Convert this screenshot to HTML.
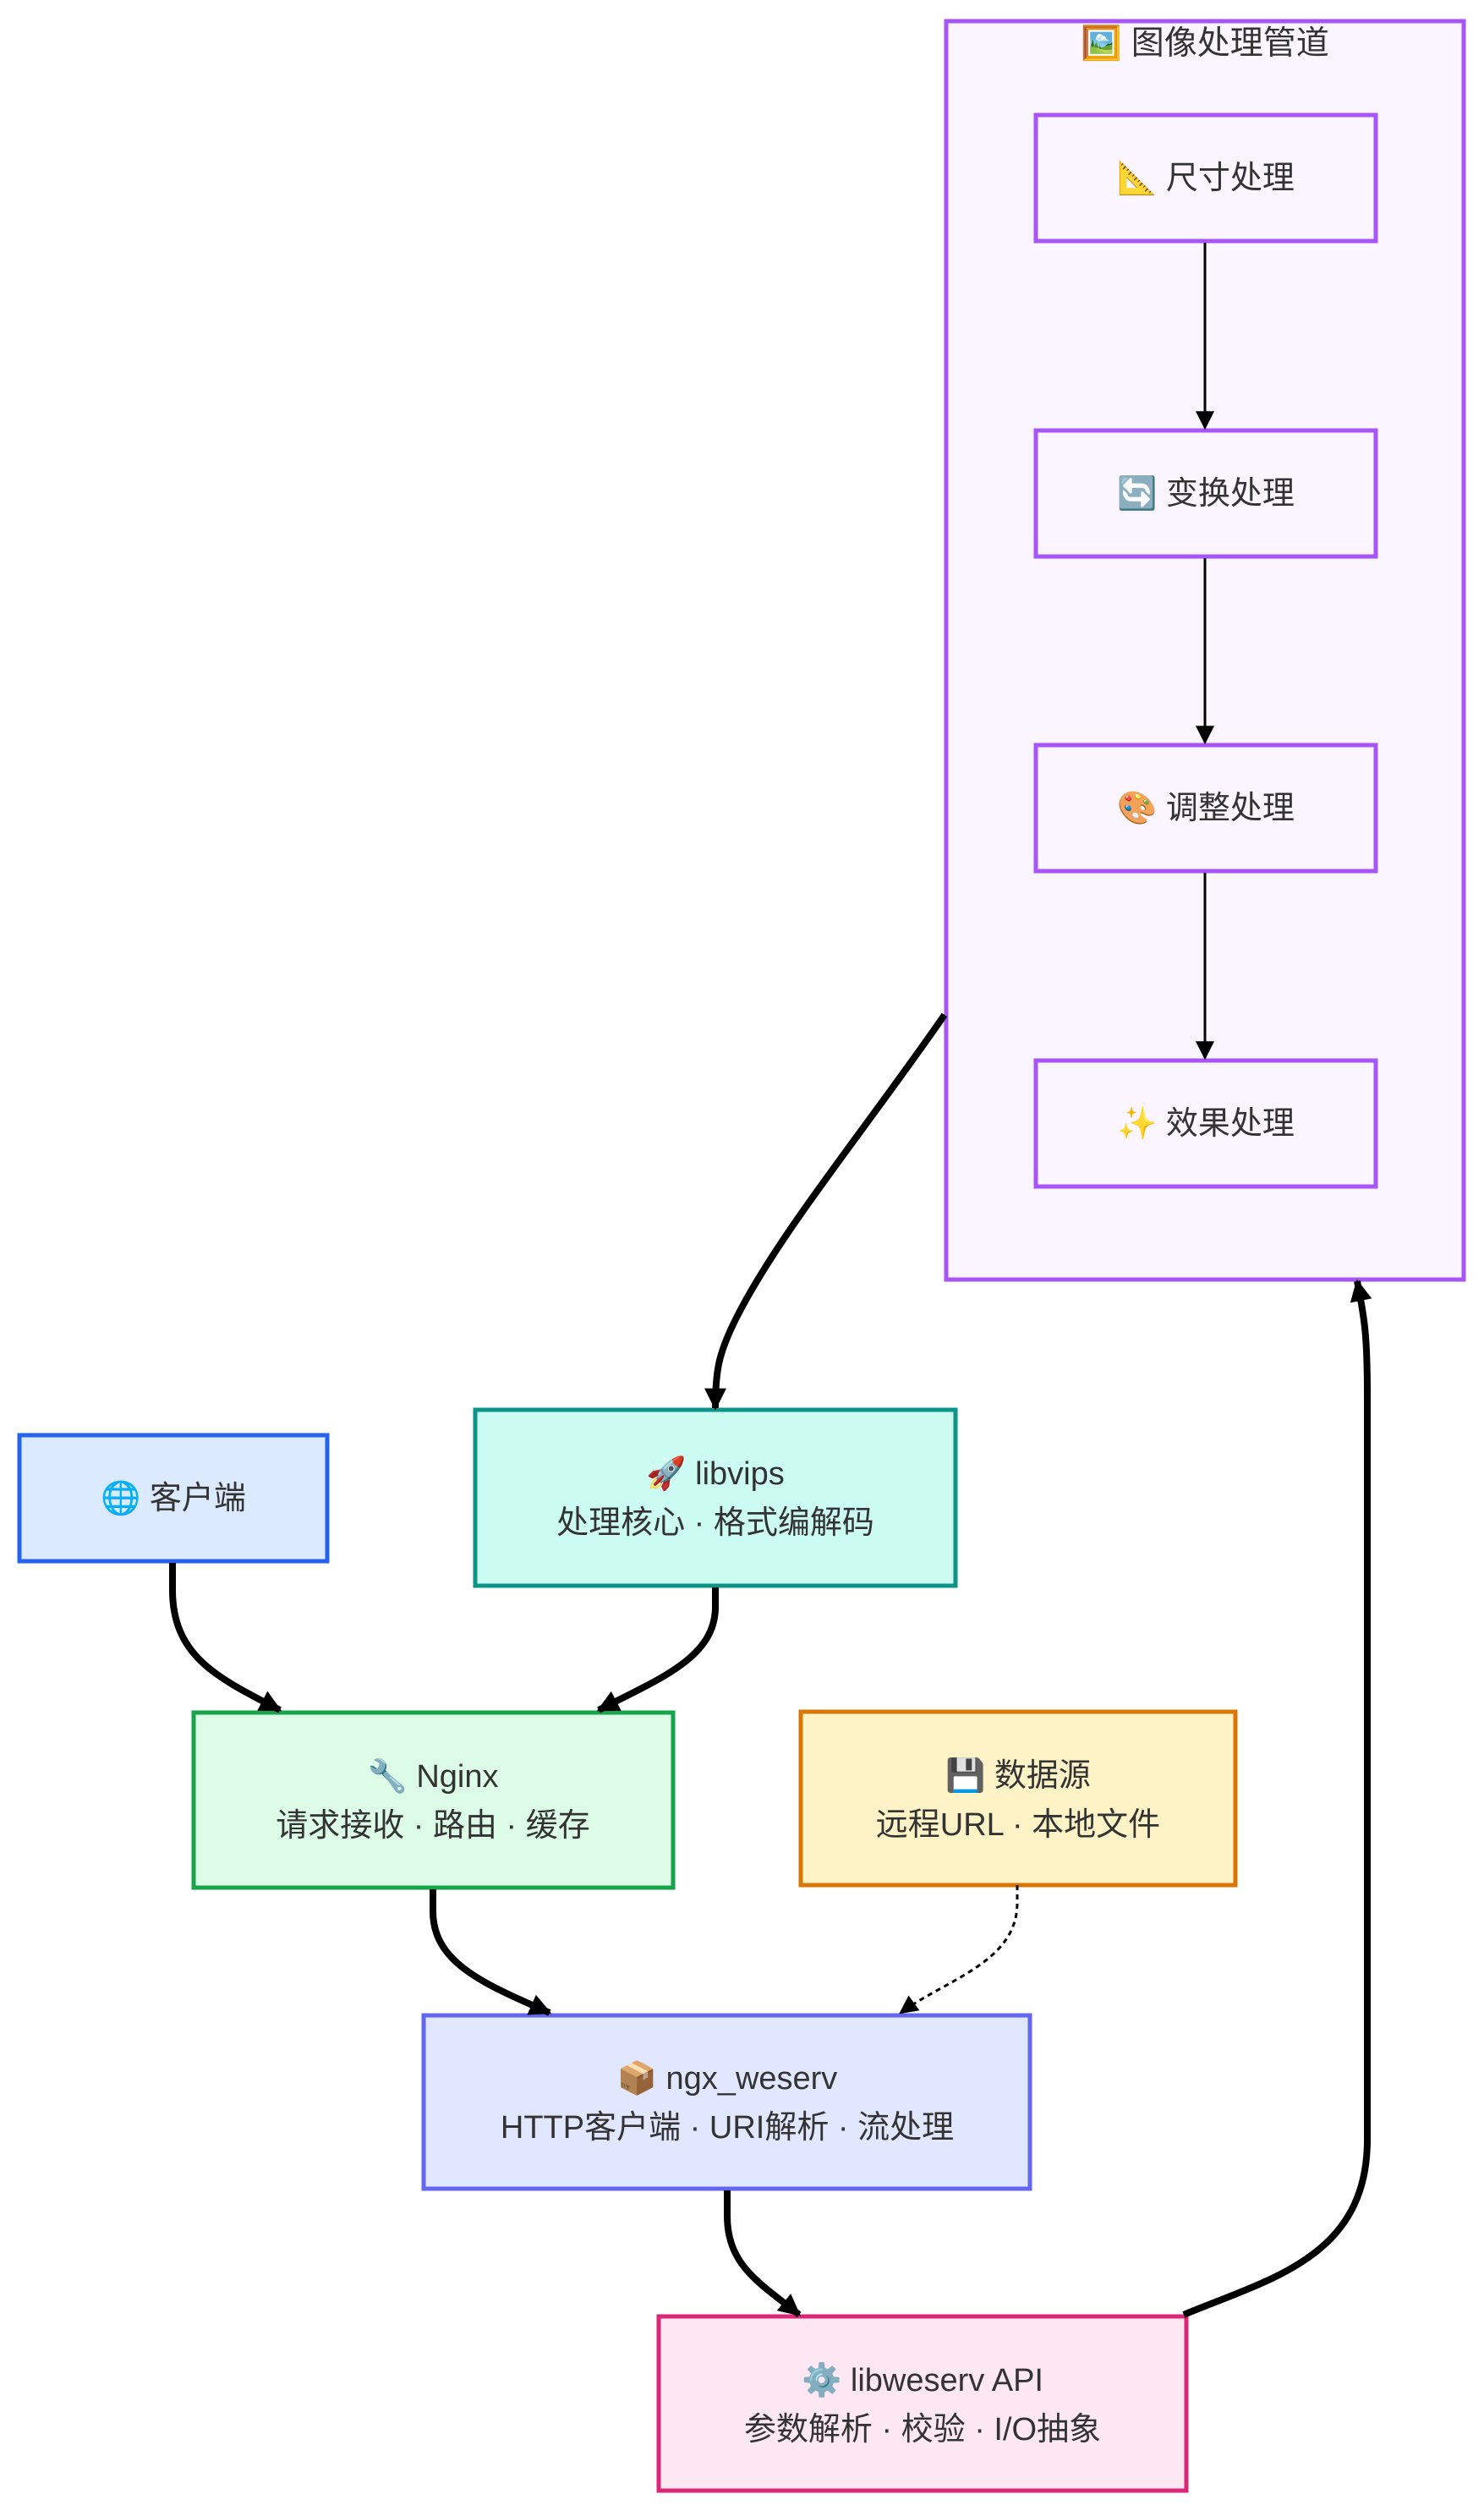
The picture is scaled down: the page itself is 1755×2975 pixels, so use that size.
<!DOCTYPE html>
<html><head><meta charset="utf-8"><style>
html,body{margin:0;padding:0;background:#fff;}
svg text{font-family:"Liberation Sans","Noto Sans CJK SC",sans-serif;fill:#333;}
</style></head><body>
<svg width="1755" height="2970" viewBox="0 0 1755 2970" xmlns="http://www.w3.org/2000/svg">
<defs>
<marker id="a" viewBox="0 0 10 10" refX="9" refY="5" markerWidth="22" markerHeight="22" markerUnits="userSpaceOnUse" orient="auto"><path d="M0,0L10,5L0,10z" fill="#000"/></marker>
<marker id="b" viewBox="0 0 10 10" refX="9" refY="5" markerWidth="26" markerHeight="26" markerUnits="userSpaceOnUse" orient="auto"><path d="M0,0L10,5L0,10z" fill="#000"/></marker>
</defs>
<rect x="1119" y="25" width="612" height="1488" fill="#faf5ff" stroke="#a855f7" stroke-width="5"/>
<text x="1425" y="64" font-size="39" text-anchor="middle">🖼️ 图像处理管道</text>
<g fill="#faf5ff" stroke="#a855f7" stroke-width="5">
<rect x="1225" y="136" width="402" height="149"/>
<rect x="1225" y="509" width="402" height="149"/>
<rect x="1225" y="881" width="402" height="149"/>
<rect x="1225" y="1254" width="402" height="149"/>
</g>
<g font-size="38" text-anchor="middle">
<text x="1426" y="223">📐 尺寸处理</text>
<text x="1426" y="596">🔄 变换处理</text>
<text x="1426" y="968">🎨 调整处理</text>
<text x="1426" y="1341">✨ 效果处理</text>
</g>
<g stroke="#000" stroke-width="3" fill="none" marker-end="url(#a)">
<line x1="1425" y1="287" x2="1425" y2="506"/>
<line x1="1425" y1="660" x2="1425" y2="878"/>
<line x1="1425" y1="1032" x2="1425" y2="1251"/>
</g>
<rect x="23" y="1697" width="364" height="149" fill="#dbeafe" stroke="#2563eb" stroke-width="5"/>
<rect x="562" y="1667" width="568" height="208" fill="#ccfbf1" stroke="#0d9488" stroke-width="5"/>
<rect x="229" y="2025" width="567" height="207" fill="#dcfce7" stroke="#16a34a" stroke-width="5"/>
<rect x="947" y="2024" width="514" height="205" fill="#fef3c7" stroke="#d97706" stroke-width="5"/>
<rect x="501" y="2383" width="717" height="205" fill="#e0e7ff" stroke="#6366f1" stroke-width="5"/>
<rect x="779" y="2739" width="624" height="206" fill="#fce7f3" stroke="#db2777" stroke-width="5"/>
<g font-size="38" text-anchor="middle">
<text x="205" y="1784">🌐 客户端</text>
<text x="846" y="1755">🚀 libvips</text>
<text x="846" y="1813">处理核心 · 格式编解码</text>
<text x="512" y="2113">🔧 Nginx</text>
<text x="512" y="2171">请求接收 · 路由 · 缓存</text>
<text x="1204" y="2112">💾 数据源</text>
<text x="1204" y="2170">远程URL · 本地文件</text>
<text x="860" y="2470">📦 ngx_weserv</text>
<text x="860" y="2528">HTTP客户端 · URI解析 · 流处理</text>
<text x="1091" y="2827">⚙️ libweserv API</text>
<text x="1091" y="2885">参数解析 · 校验 · I/O抽象</text>
</g>
<g stroke="#000" stroke-width="8" fill="none" marker-end="url(#b)">
<path d="M204,1848 L204,1880 C204,1960 260,1985 331,2022"/>
<path d="M846,1877 L846,1900 C846,1960 780,1985 708,2022"/>
<path d="M512,2234 L512,2260 C512,2320 570,2345 650,2380"/>
<path d="M860,2590 L860,2620 C860,2680 900,2700 945,2737"/>
<path d="M1400,2737 C1500,2695 1617,2670 1617,2530 L1617,1650 C1617,1580 1614,1560 1605,1515"/>
<path d="M1117,1200 C1020,1340 920,1460 870,1560 C850,1600 846,1620 846,1665"/>
</g>
<path d="M1203,2229 L1203,2250 C1203,2320 1120,2340 1065,2380" stroke="#000" stroke-width="3" stroke-dasharray="6,5" fill="none" marker-end="url(#a)"/>
</svg>
</body></html>
